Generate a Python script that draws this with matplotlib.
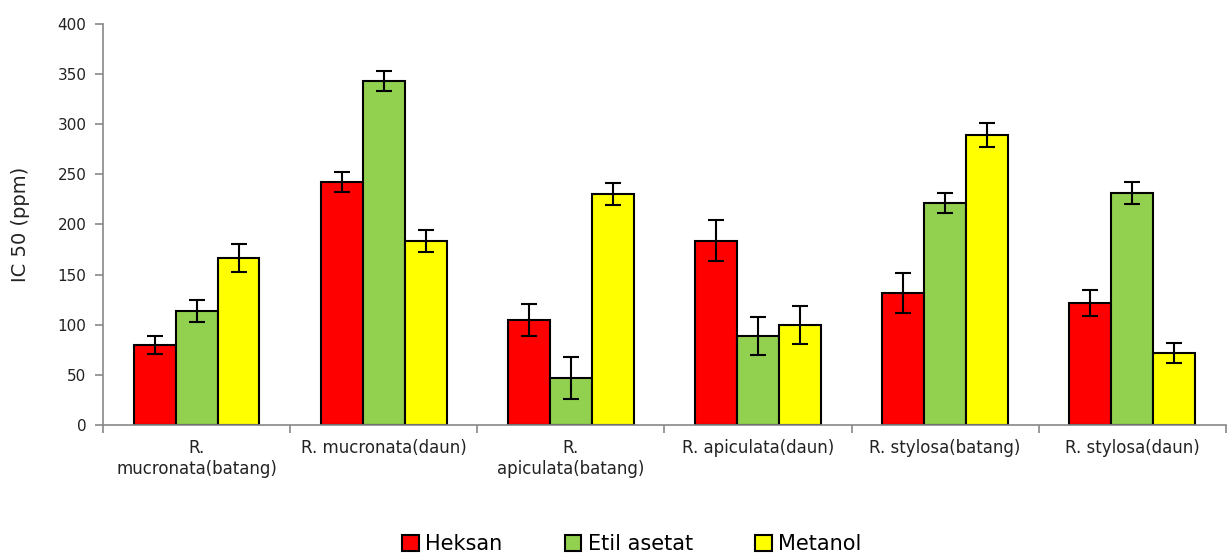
import numpy as np
import matplotlib.pyplot as plt

# data
categories = ['R.\nmucronata(batang)', 'R. mucronata(daun)', 'R.\napiculata(batang)',
              'R. apiculata(daun)', 'R. stylosa(batang)', 'R. stylosa(daun)']
series = ['Heksan', 'Etil asetat', 'Metanol']
heksan = [80, 242, 105, 184, 132, 122]
etil = [114, 343, 47, 89, 221, 231]
metanol = [167, 184, 230, 100, 289, 72]
heksan_err = [9, 10, 16, 20, 20, 13]
etil_err = [11, 10, 21, 19, 10, 11]
metanol_err = [14, 11, 11, 19, 12, 10]
colors = ['#ff0000', '#92d050', '#ffff00']

plt.rcParams['font.family'] = ['DejaVu Sans']

fig = plt.figure(figsize=(12.27, 5.55), dpi=100)
ax = fig.add_axes([0.084, 0.234, 0.915, 0.723])

x = np.arange(len(categories))
w = 0.224
vals = [heksan, etil, metanol]
errs = [heksan_err, etil_err, metanol_err]
for i in range(3):
    ax.bar(x + (i - 1) * w, vals[i], w, color=colors[i], edgecolor='black',
           linewidth=1.5, label=series[i], zorder=2)
    ax.errorbar(x + (i - 1) * w, vals[i], yerr=errs[i], fmt='none', ecolor='black',
                elinewidth=1.5, capsize=6, capthick=1.5, zorder=3)

ax.set_xlim(-0.5, len(categories) - 0.5)
ax.set_ylim(0, 400)
ax.set_yticks(range(0, 401, 50))
ax.set_xticks(x)
ax.set_xticklabels(categories, fontsize=12, color='#222222')
ax.set_xticks(np.arange(-0.5, len(categories), 1), minor=True)
ax.tick_params(axis='x', which='major', length=0, pad=10)
ax.tick_params(axis='x', which='minor', length=6, color='#888888', width=1.2)
ax.tick_params(axis='y', length=6, color='#888888', width=1.2, labelsize=11,
               labelcolor='#222222', pad=6)
for s in ['top', 'right']:
    ax.spines[s].set_visible(False)
for s in ['left', 'bottom']:
    ax.spines[s].set_color('#888888')
    ax.spines[s].set_linewidth(1.2)
ax.set_ylabel('IC 50 (ppm)', fontsize=14, color='#222222', labelpad=20)

fig.legend(loc='lower center', bbox_to_anchor=(0.515, -0.032), ncol=3, frameon=False,
           fontsize=15, handlelength=0.8, handleheight=0.8, columnspacing=3.0,
           handletextpad=0.3)

fig.savefig('out.png', dpi=100)
